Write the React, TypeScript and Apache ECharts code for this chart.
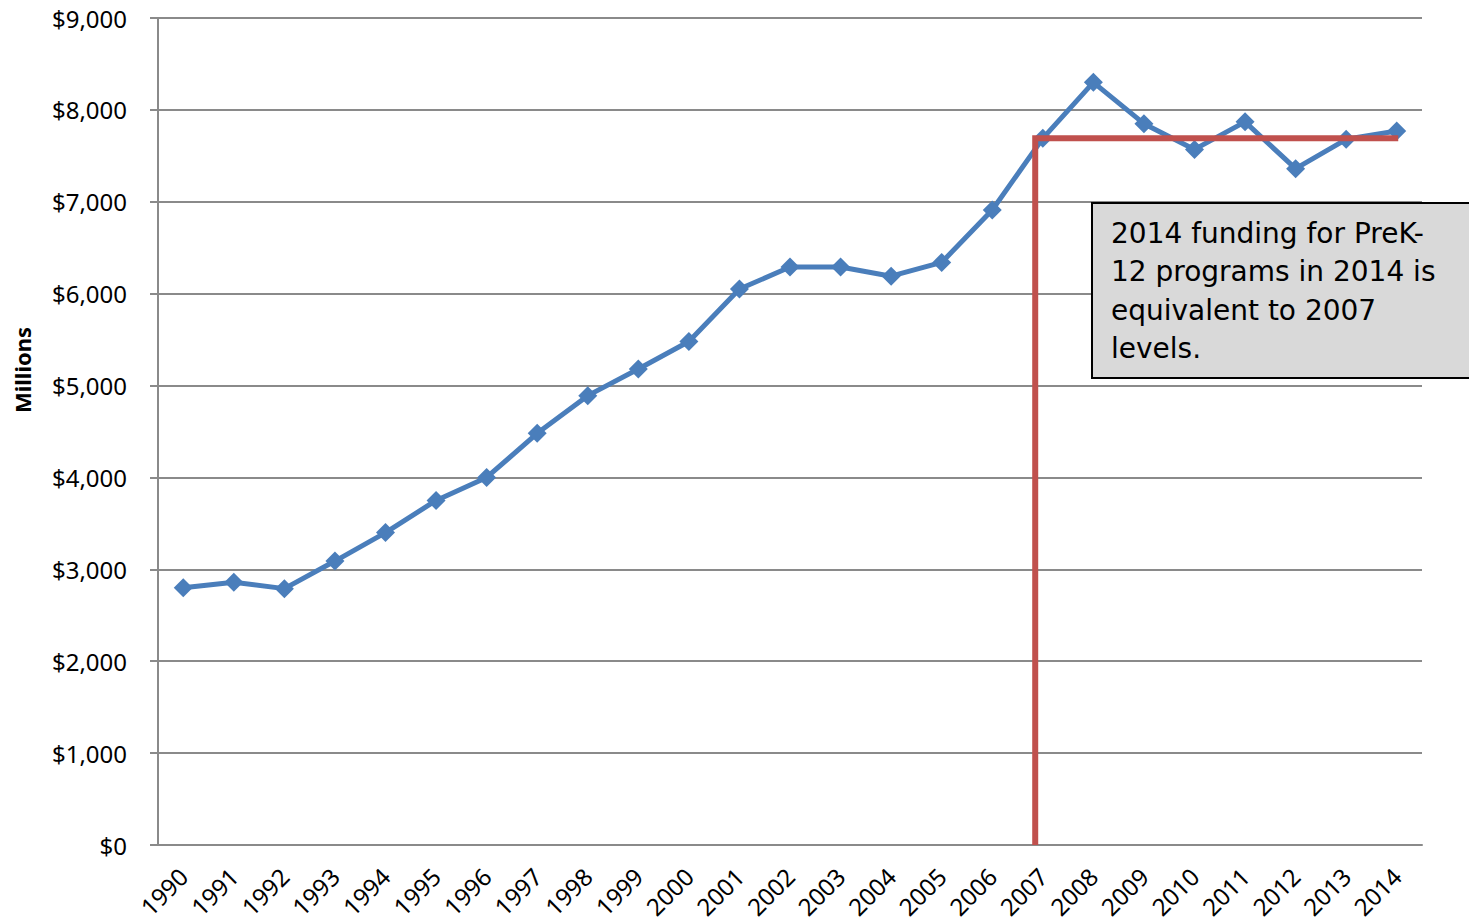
import React, { useEffect, useRef } from "react";
import * as echarts from "echarts";

const years = ["1990","1991","1992","1993","1994","1995","1996","1997","1998","1999","2000","2001","2002","2003","2004","2005","2006","2007","2008","2009","2010","2011","2012","2013","2014"];
const funding = [2800,2860,2790,3090,3400,3750,4000,4480,4890,5180,5480,6050,6290,6290,6190,6340,6910,7690,8300,7850,7570,7870,7360,7680,7770];
// reference line: position on a 0..25 band scale (x) and millions (y)
const refLine = [[17.35, 0], [17.35, 7690], [24.53, 7690]];
const yTicks = { min: 0, max: 9000, interval: 1000 };
const noteLines = ["2014 funding for PreK-", "12 programs in 2014 is", "equivalent to 2007", "levels."];

export default function App() {
  const ref = useRef<HTMLDivElement>(null);
  useEffect(() => {
    const chart = echarts.init(ref.current!, null, { renderer: "svg" });
    const grey = "#8a8a8a";
    chart.setOption({
      animation: false,
      grid: { left: 158, right: 47, top: 18, bottom: 76, containLabel: false, outerBoundsMode: "none" },
      xAxis: [
        {
          type: "category",
          data: years,
          boundaryGap: true,
          axisLine: { lineStyle: { color: grey, width: 2 } },
          axisTick: { alignWithLabel: false, length: 8, lineStyle: { color: grey, width: 2 } },
          axisLabel: { rotate: 45, margin: 27, fontFamily: "Noto Sans", fontSize: 24, color: "#000", interval: 0 },
          splitLine: { show: false },
        },
        { type: "value", min: 0, max: 25, show: false },
      ],
      yAxis: {
        type: "value",
        min: yTicks.min,
        max: yTicks.max,
        interval: yTicks.interval,
        axisLine: { show: true, lineStyle: { color: grey, width: 2 } },
        axisTick: { show: true, length: 8, lineStyle: { color: grey, width: 2 } },
        axisLabel: {
          margin: 31,
          fontFamily: "Noto Sans",
          fontSize: 24,
          color: "#000",
          formatter: (v: number) => "$" + v.toLocaleString("en-US"),
        },
        splitLine: { lineStyle: { color: grey, width: 2 } },
      },
      series: [
        {
          type: "line",
          data: funding,
          xAxisIndex: 0,
          symbol: "diamond",
          symbolSize: 19,
          lineStyle: { color: "#4a7ebb", width: 5 },
          itemStyle: { color: "#4a7ebb" },
          z: 2,
        },
        {
          type: "line",
          data: refLine,
          xAxisIndex: 1,
          symbol: "none",
          lineStyle: { color: "#c0504d", width: 6, join: "miter", cap: "butt" },
          z: 3,
        },
      ],
      graphic: [
        {
          type: "text",
          x: 22,
          y: 370,
          rotation: Math.PI / 2,
          style: {
            text: "Millions",
            fontFamily: "Noto Sans",
            fontSize: 22,
            fontWeight: "bold",
            fill: "#000",
            align: "center",
            verticalAlign: "middle",
          },
        },
        {
          type: "rect",
          shape: { x: 1092, y: 203, width: 390, height: 175 },
          style: { fill: "#d9d9d9", stroke: "#000", lineWidth: 2 },
          z: 10,
        },
        {
          type: "text",
          x: 1111,
          y: 214,
          style: {
            text: noteLines.join("\n"),
            fontFamily: "DejaVu Sans",
            fontSize: 28,
            lineHeight: 38.5,
            fill: "#000",
          },
          z: 11,
        },
      ],
    });
    return () => chart.dispose();
  }, []);
  return <div ref={ref} style={{ position: "fixed", left: 0, top: 0, width: 1469, height: 921, background: "#fff" }} />;
}
